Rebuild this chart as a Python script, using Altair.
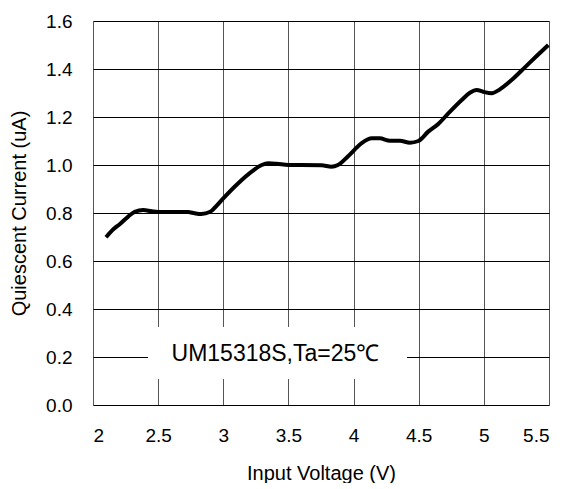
import altair as alt
import pandas as pd

# Curve
voltage = [2.10, 2.156, 2.207, 2.27, 2.32, 2.386, 2.45, 2.50, 2.60, 2.73, 2.78, 2.83,
           2.90, 2.936, 3.00, 3.115, 3.218, 3.295, 3.345, 3.41, 3.50, 3.60, 3.755,
           3.83, 3.88, 3.96, 4.06, 4.14, 4.20, 4.28, 4.356, 4.433, 4.497, 4.573,
           4.65, 4.727, 4.83, 4.893, 4.945, 4.995, 5.06, 5.123, 5.213, 5.315,
           5.405, 5.495]
current = [0.699, 0.732, 0.754, 0.785, 0.805, 0.8125, 0.807, 0.804, 0.804, 0.804, 0.799,
           0.796, 0.805, 0.823, 0.861, 0.924, 0.972, 1.000, 1.007, 1.005, 1.000,
           1.000, 0.999, 0.993, 1.000, 1.0375, 1.09, 1.111, 1.111, 1.101, 1.101,
           1.093, 1.100, 1.139, 1.171, 1.215, 1.271, 1.301, 1.3125, 1.305, 1.299,
           1.315, 1.354, 1.407, 1.454, 1.500]

x_ticks = [2, 2.5, 3, 3.5, 4, 4.5, 5, 5.5]
y_ticks = [0, 0.2, 0.4, 0.6, 0.8, 1.0, 1.2, 1.4, 1.6]

label_text = ["UM15318S,Ta=25℃"]
label_x = [3.4]
label_y = [0.2]
box_x = [2.422]
box_x2 = [4.41]
box_y = [0.108]
box_y2 = [0.325]

df = pd.DataFrame({"v": voltage, "i": current})
lab = pd.DataFrame({"t": label_text, "x": label_x, "y": label_y,
                    "x0": box_x, "x1": box_x2, "y0": box_y, "y1": box_y2})

FONT = "Liberation Sans"

xscale = alt.Scale(domain=[2, 5.5], nice=False, zero=False)
yscale = alt.Scale(domain=[0, 1.6], nice=False)

xaxis = alt.Axis(values=x_ticks, format=".1~f", title="Input Voltage (V)",
                 grid=True, gridColor="#555555", gridWidth=1, domain=False,
                 ticks=False, labelPadding=21, labelFontSize=19, labelFont=FONT,
                 labelColor="black", titleFont=FONT, titleFontSize=20,
                 titleFontWeight="normal", titleColor="black",
                 titleBaseline="alphabetic", titleY=74, titleX=228)
yaxis = alt.Axis(values=y_ticks, format=".1f", title="Quiescent Current (uA)",
                 grid=True, gridColor="black", gridWidth=1, domain=False,
                 ticks=False, labelPadding=21, labelFontSize=19, labelFont=FONT,
                 labelColor="black", titleFont=FONT, titleFontSize=20,
                 titleFontWeight="normal", titleColor="black",
                 titleBaseline="alphabetic", titleX=-68, titleY=192)

line = alt.Chart(df).mark_line(color="black", strokeWidth=4,
                               interpolate="monotone").encode(
    x=alt.X("v:Q", scale=xscale, axis=xaxis),
    y=alt.Y("i:Q", scale=yscale, axis=yaxis),
)

box = alt.Chart(lab).mark_rect(color="white").encode(
    x=alt.X("x0:Q", scale=xscale), x2="x1:Q",
    y=alt.Y("y0:Q", scale=yscale), y2="y1:Q",
)

text = alt.Chart(lab).mark_text(font=FONT, fontSize=23, color="black",
                                align="center", baseline="alphabetic", dy=4).encode(
    x=alt.X("x:Q", scale=xscale), y=alt.Y("y:Q", scale=yscale), text="t:N"
)

chart = alt.layer(box, text, line).properties(
    width=456, height=384,
    autosize=alt.AutoSizeParams(type="none"),
    padding={"left": 85, "top": 13, "right": 10, "bottom": 78},
).configure_view(stroke="black", strokeWidth=2).configure(background="white")

chart.save("out.html", embed_options={"renderer": "svg", "actions": False})
